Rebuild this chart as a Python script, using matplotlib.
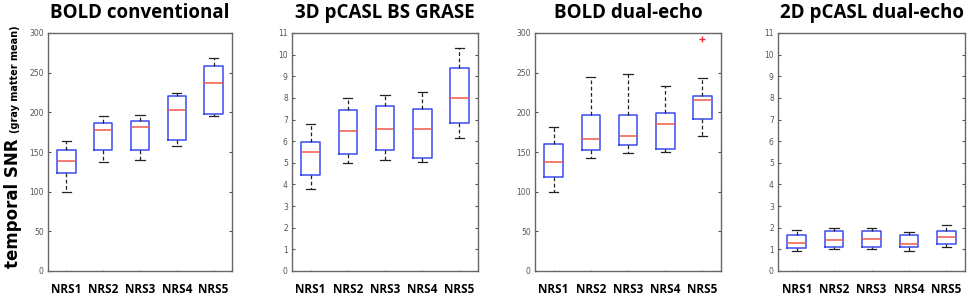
import matplotlib
matplotlib.use("Agg")
import matplotlib.pyplot as plt

categories = ["NRS1", "NRS2", "NRS3", "NRS4", "NRS5"]
titles = ["BOLD conventional", "3D pCASL BS GRASE", "BOLD dual-echo", "2D pCASL dual-echo"]

# each panel: whisker_low, q1, median, q3, whisker_high
bold_conv = {
    "whislo": [100, 137, 140, 158, 196],
    "q1":     [124, 152, 153, 165, 198],
    "med":    [139, 178, 181, 203, 237],
    "q3":     [152, 187, 189, 220, 258],
    "whishi": [164, 196, 197, 224, 269],
}
grase_3d = {
    "whislo": [3.79, 4.97, 5.12, 5.05, 6.14],
    "q1":     [4.44, 5.40, 5.61, 5.24, 6.82],
    "med":    [5.48, 6.47, 6.57, 6.57, 8.00],
    "q3":     [5.97, 7.43, 7.62, 7.47, 9.39],
    "whishi": [6.80, 8.00, 8.14, 8.28, 10.32],
}
bold_dual = {
    "whislo": [100, 142, 149, 150, 170],
    "q1":     [119, 152, 159, 154, 191],
    "med":    [137, 166, 170, 185, 215],
    "q3":     [160, 197, 197, 199, 221],
    "whishi": [182, 245, 248, 233, 243],
}
bold_dual_outliers = [[], [], [], [], [292]]
pcasl_2d = {
    "whislo": [0.91, 1.02, 1.02, 0.91, 1.09],
    "q1":     [1.07, 1.09, 1.09, 1.09, 1.23],
    "med":    [1.29, 1.44, 1.47, 1.26, 1.58],
    "q3":     [1.68, 1.84, 1.84, 1.68, 1.87],
    "whishi": [1.88, 1.99, 1.99, 1.80, 2.11],
}

panels = [
    (bold_conv, None, 300, list(range(0, 301, 50))),
    (grase_3d, None, 11, list(range(0, 12))),
    (bold_dual, bold_dual_outliers, 300, list(range(0, 301, 50))),
    (pcasl_2d, None, 11, list(range(0, 12))),
]

W, H = 969, 297
fig = plt.figure(figsize=(W / 100, H / 100), dpi=100)
lefts = [48, 292, 535, 778]
widths = [184, 186, 186, 187]
top_px, bot_px = 33, 271

title_font = "Open Sans"
for i, (data, outl, ymax, yt) in enumerate(panels):
    ax = fig.add_axes([lefts[i] / W, (H - bot_px) / H, widths[i] / W, (bot_px - top_px) / H])
    stats = []
    for k in range(5):
        stats.append({
            "whislo": data["whislo"][k], "q1": data["q1"][k], "med": data["med"][k],
            "q3": data["q3"][k], "whishi": data["whishi"][k],
            "fliers": outl[k] if outl else [],
        })
    ax.bxp(stats, positions=range(1, 6), widths=0.5, showfliers=True,
           boxprops=dict(color="#3a4cf0", linewidth=1.1),
           medianprops=dict(color="#f05a4a", linewidth=1.1),
           whiskerprops=dict(color="#222222", linewidth=0.9, linestyle=(0, (3, 2))),
           capprops=dict(color="#222222", linewidth=0.9),
           flierprops=dict(marker="+", markeredgecolor="#f03030", markersize=5, linestyle="none"))
    ax.set_xlim(0.5, 5.5)
    ax.set_ylim(0, ymax)
    ax.set_yticks(yt)
    ax.set_yticklabels([str(v) for v in yt], fontsize=5.5, color="#555555")
    ax.set_xticks(range(1, 6))
    ax.set_xticklabels([])
    ax.tick_params(axis="y", direction="in", length=2.5, width=0.8, color="#555555",
                   right=True, pad=3)
    ax.tick_params(axis="x", direction="in", length=1.5, width=0.5, color="#cccccc")
    for sp in ax.spines.values():
        sp.set_color("#666666")
        sp.set_linewidth(1.0)
    ax.set_title(titles[i], fontsize=13.5, fontweight="bold", family=title_font, pad=11)
    for k, c in enumerate(categories):
        ax.text(k + 1, -0.05, c, transform=ax.get_xaxis_transform(), ha="center",
                va="top", fontsize=8.5, fontweight="bold", family=title_font)

fig.text(13 / W, (H - 203) / H, "temporal SNR", rotation=90, ha="center", va="center",
         fontsize=12, fontweight="bold", family="DejaVu Sans")
fig.text(15 / W, (H - 79) / H, "(gray matter mean)", rotation=90, ha="center", va="center",
         fontsize=7, fontweight="bold", family="DejaVu Sans")

fig.savefig("out.png", dpi=100)
